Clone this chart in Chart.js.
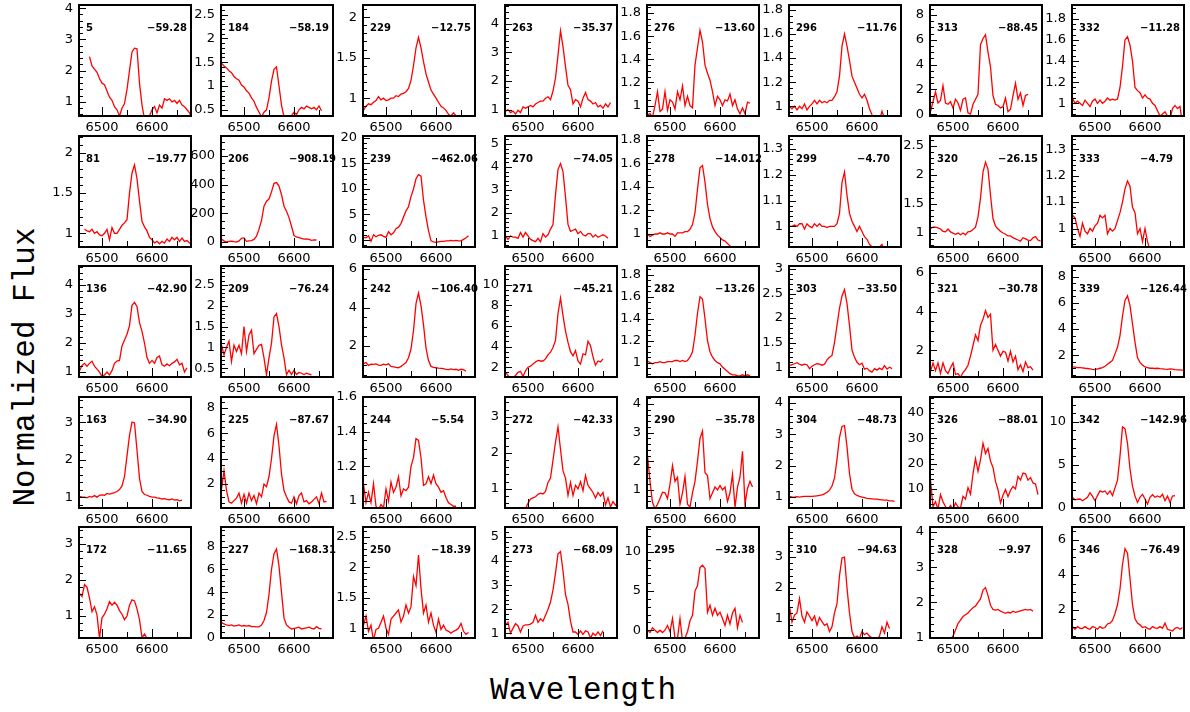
<!DOCTYPE html>
<html>
<head>
<meta charset="utf-8">
<title>H-alpha profiles</title>
<script src="https://cdn.jsdelivr.net/npm/chart.js@4.4.0/dist/chart.umd.min.js"></script>
<style>
  body { margin: 0; background: #fff; width: 1190px; height: 712px; position: relative; overflow: hidden; }
  canvas.panel { position: absolute; }
  .title { position: absolute; font: 31px "Liberation Mono", monospace; color: #000; white-space: nowrap; }
  #ytitle { left: 25px; top: 367px; transform: translate(-50%, -50%) rotate(-90deg); }
  #xtitle { left: 583px; top: 690px; transform: translate(-50%, -50%); }
</style>
</head>
<body>
<div class="title" id="ytitle">Normalized Flux</div>
<div class="title" id="xtitle">Wavelength</div>
<script>
// wavelength grid shared by every spectrum (Angstrom)
const wave = [6455, 6460, 6465, 6470, 6475, 6480, 6485, 6490, 6495, 6500,
  6505, 6510, 6515, 6520, 6525, 6530, 6535, 6540, 6545, 6550,
  6555, 6560, 6565, 6570, 6575, 6580, 6585, 6590, 6595, 6600,
  6605, 6610, 6615, 6620, 6625, 6630, 6635, 6640, 6645, 6650,
  6655, 6660, 6665, 6670, 6675, 6680];

// normalized flux per star, sampled on `wave` (null = no data)
const s5 = [null, null, null, null, 2.45, 2.15, 2.05, 1.95, 1.75, 1.6,
  1.55, 1.35, 1.15, 1.05, 0.85, 0.75, 0.55, 0.8, 0.95, 1.4,
  2.0, 2.6, 2.72, 2.7, 1.6, 0.9, 0.45, 0.4, 0.55, 0.75,
  0.85, 0.65, 0.9, 0.8, 1.1, 1.05, 1.1, 1.0, 1.05, 0.95, 1.05, 0.9, 0.85, 0.75, 0.65, 0.5];
const s184 = [1.48, 1.42, 1.38, 1.32, 1.28, 1.2, 1.15, 1.12, 1.02, 0.98,
  0.9, 0.85, 0.75, 0.68, 0.55, 0.45, 0.35, 0.45, 0.5, 0.75,
  1.1, 1.35, 1.4, 1.0, 0.6, 0.35, 0.3, 0.3, 0.38, 0.45,
  0.4, 0.5, 0.55, 0.52, 0.58, 0.55, 0.52, 0.55, 0.5, 0.58, 0.48];
const s229 = [0.85, 0.9, 0.93, 0.92, 0.95, 0.97, 1.02, 0.98, 1.0, 0.97,
  0.98, 1.0, 1.0, 1.03, 1.02, 1.05, 1.06, 1.08, 1.12, 1.22,
  1.4, 1.62, 1.75, 1.62, 1.45, 1.3, 1.2, 1.1, 1.05, 1.0,
  0.95, 0.9, 0.88, 0.85, 0.8, 0.78, 0.82, 0.78, 0.75, 0.77, 0.76];
const s263 = [0.95, 1.0, 0.9, 0.95, 0.85, 0.98, 0.9, 1.1, 1.05, 1.1,
  1.15, 1.1, 1.2, 1.25, 1.3, 1.3, 1.4, 1.45, 1.35, 1.65,
  2.1, 2.9, 3.75, 3.2, 2.5, 1.85, 1.7, 1.2, 1.35, 1.3,
  1.1, 1.4, 1.6, 1.35, 1.3, 1.2, 1.25, 1.1, 1.15, 1.05, 1.2, 1.1, 1.25];
const s276 = [0.92, 0.93, 0.9, 1.0, 1.12, 0.95, 0.97, 1.12, 0.96, 1.05,
  1.03, 0.97, 1.12, 1.05, 1.17, 1.0, 1.08, 1.0, 0.98, 1.35,
  1.5, 1.65, 1.55, 1.35, 1.28, 1.22, 1.12, 1.0, 1.08, 1.05,
  1.0, 1.05, 1.04, 1.1, 1.0, 1.05, 0.97, 0.93, 0.98, 0.93, 1.03, 1.02];
const s296 = [1.0, 0.98, 1.0, 0.97, 1.0, 0.98, 1.02, 0.97, 1.0, 1.02,
  1.05, 1.02, 1.05, 1.03, 1.04, 1.03, 1.05, 1.05, 1.08, 1.12,
  1.25, 1.5, 1.6, 1.5, 1.38, 1.25, 1.2, 1.15, 1.1, 1.07,
  1.1, 1.05, 0.98, 0.93, 0.9, 0.88, 0.88, 0.96, 0.9, 0.88, 0.86, 0.88, 0.85, 0.86];
const s313 = [0.2, 1.0, 1.8, 0.9, 1.1, 2.3, 0.9, 0.8, 1.0, 0.5,
  1.2, 0.9, 0.3, 1.2, 1.3, 0.1, 0.0, 0.8, 1.2, 1.6,
  5.6, 6.1, 6.4, 5.0, 3.8, 1.5, 0.8, 0.7, 0.5, 0.6,
  1.3, 0.2, 0.4, 1.5, 2.5, 1.2, 1.7, 0.7, 1.5, 1.6];
const s332 = [1.05, 1.0, 1.02, 1.0, 0.98, 1.03, 1.0, 0.97, 1.02, 1.04,
  1.0, 1.03, 1.0, 1.02, 1.05, 1.03, 1.04, 1.03, 1.04, 1.15,
  1.35, 1.6, 1.63, 1.55, 1.4, 1.15, 1.12, 1.1, 1.05, 1.08,
  1.05, 1.04, 1.0, 0.98, 0.93, 0.88, 0.9, 0.92, 0.88, 0.85, 0.95, 0.98, 0.95, 0.97, 0.8];

const s81 = [null, null, 1.05, 1.03, 1.02, 1.05, 1.0, 1.02, 0.98, 0.97,
  1.0, 1.05, 0.92, 1.07, 1.0, 1.0, 1.05, 1.1, 1.13, 1.17,
  1.5, 1.75, 1.85, 1.68, 1.4, 1.15, 1.08, 1.03, 0.95, 0.92,
  0.88, 0.9, 0.87, 0.9, 0.88, 0.93, 0.9, 0.95, 0.92, 0.95, 0.9, 0.94, 0.9, 0.91, 0.88, 0.87];
const s206 = [20, 8, 0, 4, 5, 2, 0, 8, 25, 28,
  5, 8, 10, 18, 40, 90, 150, 250, 285, 300,
  350, 410, 415, 390, 330, 250, 215, 170, 110, 45,
  35, 30, 25, 20, 22, 18, 12, 15, 14];
const s239 = [0.5, 0.4, 0.8, -0.3, 1.0, 0.6, 0.9, 1.0, 0.7, 0.5,
  1.6, 1.0, 1.4, 2.2, 2.5, 3.2, 4.5, 5.7, 6.5, 8.5,
  10.0, 12.0, 12.8, 12.5, 7.8, 4.5, 1.8, -0.2, -0.4, -0.5,
  -0.4, -0.3, -0.3, -0.2, -0.2, -0.1, -0.2, -0.1, -0.2, -0.2, 0.1, 0.4, 0.8];
const s270 = [1.0, 0.85, 1.0, 0.95, 0.95, 0.9, 1.15, 0.95, 1.15, 1.0,
  0.85, 0.8, 0.75, 0.9, 0.75, 1.1, 0.95, 1.05, 1.3, 1.5,
  2.8, 3.9, 4.15, 3.8, 2.7, 1.5, 1.2, 1.25, 1.3, 1.1,
  1.2, 1.05, 1.0, 1.1, 1.1, 0.95, 1.05, 0.95, 1.0, 1.05, 1.0, 0.9];
const s278 = [1.0, 0.98, 0.99, 1.0, 1.0, 1.01, 1.0, 1.0, 1.01, 1.0,
  1.0, 0.98, 1.01, 1.01, 1.01, 1.02, 1.02, 1.04, 1.08, 1.18,
  1.38, 1.56, 1.58, 1.44, 1.25, 1.13, 1.06, 1.02, 0.99, 0.97,
  0.95, 0.94, 0.92, 0.9, 0.87];
const s299 = [1.0, 1.0, 1.005, 1.0, 1.01, 1.01, 0.99, 1.01, 1.0, 0.995,
  1.01, 1.0, 1.01, 1.0, 1.0, 0.995, 1.0, 1.0, 1.0, 1.01,
  1.05, 1.17, 1.21, 1.12, 1.05, 1.02, 1.0, 0.98, 1.0, 0.98,
  0.96, 0.95, 0.93, 0.92, 0.9, 0.9, 0.92, 0.93, 0.9];
const s320 = [1.08, 1.1, 1.1, 1.09, 1.07, 1.03, 1.02, 1.07, 1.02, 1.0,
  0.98, 1.0, 0.97, 1.0, 0.97, 1.02, 1.03, 1.06, 1.1, 1.28,
  1.6, 2.05, 2.22, 2.1, 1.65, 1.25, 1.12, 1.07, 1.03, 1.0,
  0.98, 0.95, 0.95, 0.92, 0.9, 0.88, 0.86, 0.92, 0.9, 0.88, 0.87, 0.92, 0.94, 0.88, 0.86];
const s333 = [1.05, 1.04, 1.0, 0.97, 1.02, 0.99, 0.98, 1.0, 0.99, 1.01,
  1.02, 1.05, 1.04, 1.05, 0.98, 1.0, 0.99, 1.0, 1.03, 1.06,
  1.1, 1.15, 1.18, 1.16, 1.08, 1.06, 0.98, 1.0, 0.95, 1.0,
  0.95, 0.92, 0.93, 0.9, 0.88, 0.87, 0.9, 0.88, 0.9, 0.93];

const s136 = [1.05, 1.23, 1.3, 1.2, 1.3, 1.37, 1.2, 1.1, 1.0, 0.85,
  0.9, 1.0, 0.9, 1.05, 1.3, 1.38, 1.4, 1.9, 2.1, 2.3,
  2.6, 3.3, 3.4, 3.25, 2.7, 2.4, 2.0, 1.5, 1.3, 1.4,
  1.3, 1.5, 1.55, 1.25, 1.2, 1.28, 1.22, 1.3, 1.35, 1.44, 1.25, 1.3, 1.0, 1.15];
const s209 = [1.05, 0.82, 1.0, 1.15, 0.66, 1.05, 0.9, 1.05, 0.85, 1.5,
  0.9, 1.3, 1.41, 0.85, 0.95, 1.05, 1.07, 0.75, 0.34, 0.75,
  1.1, 1.73, 1.81, 1.5, 1.06, 0.75, 0.35, 0.45, 0.35, 0.45,
  0.35, 0.4, 0.38, 0.35, 0.38, 0.36, 0.34];
const s242 = [1.09, 1.15, 1.0, 1.07, 1.05, 1.08, 1.02, 1.0, 1.06, 1.03,
  1.08, 0.95, 0.93, 0.9, 0.88, 0.95, 1.05, 1.15, 1.4, 1.85,
  2.8, 4.2, 4.75, 4.1, 3.1, 1.9, 1.25, 0.95, 0.9, 0.88,
  0.86, 0.85, 0.83, 0.8, 0.78, 0.82, 0.78, 0.8, 0.75, 0.8, 0.78, 0.7];
const s271 = [1.5, 1.2, 0.7, 1.0, 1.2, 1.5, 1.6, 1.1, 1.65, 2.0,
  2.1, 2.3, 2.5, 2.65, 2.6, 2.6, 2.8, 3.2, 3.45, 3.9,
  4.6, 7.2, 8.7, 7.0, 5.5, 4.4, 3.5, 3.1, 3.6, 2.6,
  2.3, 3.3, 3.2, 4.5, 4.1, 3.0, 2.2, 2.6, 2.5, 2.8];
const s282 = [1.015, 1.0, 0.99, 1.0, 1.0, 1.01, 1.0, 1.0, 1.01, 1.01,
  1.01, 1.02, 1.02, 1.01, 1.02, 1.01, 1.02, 1.05, 1.1, 1.25,
  1.45, 1.6, 1.58, 1.4, 1.2, 1.1, 1.05, 1.02, 1.0, 0.99,
  0.96, 0.94, 0.92, 0.9, 0.89, 0.89, 0.88, 0.88, 0.89, 0.88, 0.89, 0.88];
const s303 = [1.03, 1.05, 1.07, 1.09, 1.06, 1.04, 1.06, 1.05, 0.97, 1.02,
  1.05, 1.07, 1.06, 1.04, 1.06, 1.15, 1.2, 1.24, 1.5, 1.85,
  2.2, 2.45, 2.58, 2.3, 1.85, 1.35, 1.2, 1.1, 1.05, 1.08,
  0.96, 0.98, 0.93, 0.9, 0.97, 0.94, 0.98, 0.95, 1.03, 0.96, 1.0, 0.97];
const s321 = [0.9, 1.35, 0.95, 1.35, 0.8, 1.35, 0.95, 0.8, 1.1, 1.35,
  0.75, 0.8, 0.6, 0.85, 1.0, 1.23, 1.7, 2.25, 2.8, 2.5,
  3.3, 3.6, 4.05, 3.7, 3.87, 2.0, 2.3, 2.0, 1.7, 1.95,
  1.9, 1.45, 1.95, 1.4, 1.7, 1.0, 1.25, 0.9, 1.4, 1.1, 1.15, 0.98];
const s339 = [1.1, 1.08, 1.05, 1.05, 1.03, 1.0, 0.98, 0.95, 0.92, 0.9,
  0.95, 1.0, 1.05, 1.15, 1.3, 1.45, 1.6, 2.1, 2.6, 3.5,
  5.0, 6.2, 6.55, 5.8, 4.4, 3.0, 1.8, 1.45, 1.25, 1.1,
  1.05, 1.0, 1.0, 0.98, 1.0, 0.97, 0.95, 0.93, 0.92, 0.95, 0.93, 0.9, 0.88, 0.87, 0.85, 0.84];

const s163 = [1.02, 1.0, 1.0, 0.98, 1.02, 1.0, 1.04, 1.0, 1.05, 1.06,
  1.05, 1.1, 1.08, 1.1, 1.12, 1.15, 1.2, 1.3, 1.55, 2.1,
  2.65, 3.0, 2.98, 2.25, 1.5, 1.15, 1.07, 1.05, 1.02, 1.0,
  1.0, 0.98, 0.97, 0.95, 0.96, 0.94, 0.93, 0.95, 0.92, 0.93, 0.9, 0.92];
const s225 = [1.6, 3.05, 1.5, 0.6, 0.5, 0.7, 0.9, 1.3, 0.5, 1.2,
  0.5, 1.3, 0.7, 1.1, 0.45, 1.3, 1.0, 2.0, 1.8, 2.6,
  4.0, 5.8, 6.7, 5.0, 2.8, 1.5, 1.0, 0.6, 0.5, 1.0,
  0.45, 1.1, 1.3, 0.6, 0.7, 0.45, 0.6, 0.8, 1.0, 0.45, 1.3, 0.6, 0.65];
const s244 = [1.1, 0.99, 1.05, 0.99, 1.1, 0.97, 0.95, 0.98, 0.96, 1.07,
  1.0, 1.11, 1.05, 1.08, 1.14, 1.03, 1.07, 1.06, 1.08, 1.2,
  1.25, 1.36, 1.35, 1.25, 1.09, 1.1, 1.14, 1.1, 1.15, 1.1,
  1.08, 1.05, 1.06, 1.02, 0.99, 0.98, 0.97, 0.97];
const s272 = [null, null, null, null, null, null, null, null, 0.45, 0.6,
  0.72, 0.75, 0.78, 0.85, 0.88, 0.86, 0.93, 1.18, 1.3, 1.8,
  2.3, 2.72, 2.1, 1.5, 1.3, 0.82, 1.18, 0.82, 1.1, 1.0,
  1.2, 0.95, 1.37, 1.1, 1.0, 0.9, 0.75, 0.9, 0.8, 0.9, 0.55, 0.75, 0.5, 0.65, 0.55, 0.6];
const s290 = [2.2, 1.3, 0.57, 0.34, 0.5, 0.7, 0.92, 0.9, 0.7, 1.2,
  1.85, 1.3, 1.44, 0.5, 0.9, 1.47, 0.5, 0.4, 0.9, 1.3,
  2.0, 2.8, 3.05, 1.6, 1.5, 0.7, 0.9, 1.1, 1.0, 1.15,
  1.0, 1.1, 0.6, 0.9, 1.55, 0.4, 1.1, 1.45, 2.35, 0.5, 1.05, 1.3, 1.1];
const s304 = [1.02, 1.0, 1.0, 1.01, 1.0, 1.01, 1.02, 1.02, 1.02, 1.02,
  1.03, 1.04, 1.05, 1.07, 1.1, 1.15, 1.22, 1.35, 1.6, 2.2,
  2.9, 3.25, 3.28, 2.6, 1.75, 1.25, 1.1, 1.05, 1.02, 1.0,
  0.98, 0.96, 0.95, 0.94, 0.93, 0.93, 0.92, 0.91, 0.9, 0.9, 0.88, 0.88, 0.86];
const s326 = [13.5, 3.0, 5.0, 2.0, 7.8, 5.0, 3.0, 2.0, 3.5, 2.0,
  4.5, 3.0, 2.5, 7.1, 6.0, 10.5, 8.0, 16.0, 22.0, 17.0,
  21.5, 28.0, 24.0, 26.0, 21.0, 18.5, 13.0, 9.7, 4.5, 7.5,
  9.8, 7.0, 9.5, 11.0, 10.0, 15.0, 13.5, 16.3, 16.0, 13.5, 14.5, 12.4, 12.0, 7.8];
const s342 = [1.2, 0.9, 0.97, 1.0, 0.8, 1.0, 1.2, 1.74, 1.3, 0.8,
  1.4, 1.94, 1.8, 1.94, 1.55, 1.94, 1.4, 2.3, 3.2, 6.0,
  9.4, 9.2, 7.5, 4.5, 2.5, 1.35, 0.6, 1.2, 1.55, 1.0,
  0.4, 1.2, 1.5, 1.2, 1.35, 1.2, 1.55, 0.8, 1.35, 0.6, 1.35, 1.4];

const s172 = [1.63, 1.54, 1.87, 1.8, 1.5, 1.12, 1.26, 1.03, 0.38, 0.95,
  1.05, 1.2, 1.4, 1.3, 1.38, 1.3, 1.15, 1.05, 0.9, 1.0,
  1.3, 1.45, 1.42, 1.2, 0.9, 0.4, 0.5, 0.38, 0.3, 0.3];
const s227 = [1.3, 1.2, 1.1, 1.05, 1.1, 1.0, 1.05, 1.1, 1.0, 1.05,
  1.0, 1.05, 0.95, 0.95, 0.93, 0.93, 1.1, 1.5, 2.2, 3.8,
  6.0, 7.4, 7.8, 6.3, 4.0, 1.7, 1.1, 0.9, 0.75, 0.8,
  0.85, 0.9, 0.75, 0.8, 0.85, 0.9, 0.8, 0.75, 0.95, 0.8, 0.75];
const s250 = [1.05, 1.2, 0.95, 1.05, 0.8, 0.98, 1.0, 1.1, 1.2, 1.0,
  0.9, 1.15, 1.2, 1.25, 1.3, 1.1, 1.2, 1.38, 1.25, 1.35,
  1.85, 1.7, 2.2, 1.65, 1.25, 1.38, 1.1, 1.25, 1.05, 0.93,
  1.15, 0.98, 1.05, 0.97, 0.95, 0.92, 0.95, 0.97, 1.0, 1.08, 0.95, 0.9, 0.93];
const s273 = [1.34, 1.45, 1.0, 1.2, 1.4, 1.3, 1.05, 1.3, 1.35, 1.35,
  1.38, 1.45, 1.75, 1.45, 1.6, 1.5, 1.75, 2.0, 2.3, 2.8,
  3.5, 4.3, 4.4, 3.6, 2.6, 2.2, 1.5, 1.05, 1.05, 0.95,
  1.1, 0.95, 1.1, 1.05, 0.8, 1.0, 0.9, 1.05, 0.9, 1.1];
const s295 = [0.0, -0.3, 0.3, 0.0, -0.3, 0.0, -0.3, 0.0, 0.6, -0.2,
  1.5, -1.0, -1.0, 1.5, -1.4, -1.0, -0.2, 1.2, 1.9, 5.0,
  5.7, 8.0, 8.3, 7.9, 2.3, 3.2, 1.9, 2.8, 1.9, 2.3,
  1.5, 0.6, 1.9, 0.8, 2.2, 2.8, 0.3, 1.9, 1.0];
const s310 = [1.4, 0.9, 1.13, 1.2, 1.66, 1.1, 0.9, 1.23, 1.1, 0.95,
  1.1, 0.8, 1.05, 0.92, 0.8, 0.85, 0.6, 0.75, 1.2, 1.5,
  2.4, 2.97, 3.0, 2.0, 1.2, 0.6, 0.4, 0.45, 0.38, 0.6,
  0.5, 0.55, 0.45, 0.4, 0.35, 0.35, 0.45, 0.75, 0.55, 0.9, 0.7];
const s328 = [null, null, null, null, null, null, null, null, 0.95, 1.05,
  1.22, 1.4, 1.5, 1.6, 1.65, 1.7, 1.78, 1.85, 1.9, 2.0,
  2.1, 2.35, 2.42, 2.2, 1.92, 1.8, 1.78, 1.8, 1.75, 1.72,
  1.69, 1.72, 1.7, 1.75, 1.72, 1.74, 1.76, 1.78, 1.8, 1.78, 1.8, 1.75];
const s346 = [1.05, 0.9, 1.05, 0.95, 0.95, 1.05, 0.95, 0.9, 1.05, 1.0,
  0.9, 1.05, 0.95, 1.0, 1.2, 1.25, 1.4, 1.8, 2.3, 3.2,
  4.6, 5.5, 5.25, 3.8, 2.3, 1.5, 1.25, 1.15, 1.0, 1.05,
  0.95, 0.9, 1.05, 0.98, 0.95, 1.05, 0.95, 1.25, 0.9, 0.85, 0.8, 0.95, 1.0, 0.9, 1.0];

// panel order: row by row, left to right
const spectra = [s5, s184, s229, s263, s276, s296, s313, s332,
  s81, s206, s239, s270, s278, s299, s320, s333,
  s136, s209, s242, s271, s282, s303, s321, s339,
  s163, s225, s244, s272, s290, s304, s326, s342,
  s172, s227, s250, s273, s295, s310, s328, s346];

const ids = ['5', '184', '229', '263', '276', '296', '313', '332',
  '81', '206', '239', '270', '278', '299', '320', '333',
  '136', '209', '242', '271', '282', '303', '321', '339',
  '163', '225', '244', '272', '290', '304', '326', '342',
  '172', '227', '250', '273', '295', '310', '328', '346'];

const vels = ['\u221259.28', '\u221258.19', '\u221212.75', '\u221235.37', '\u221213.60', '\u221211.76', '\u221288.45', '\u221211.28',
  '\u221219.77', '\u2212908.19', '\u2212462.06', '\u221274.05', '\u221214.012', '\u22124.70', '\u221226.15', '\u22124.79',
  '\u221242.90', '\u221276.24', '\u2212106.40', '\u221245.21', '\u221213.26', '\u221233.50', '\u221230.78', '\u2212126.44',
  '\u221234.90', '\u221287.67', '\u22125.54', '\u221242.33', '\u221235.78', '\u221248.73', '\u221288.01', '\u2212142.96',
  '\u221211.65', '\u2212168.31', '\u221218.39', '\u221268.09', '\u221292.38', '\u221294.63', '\u22129.97', '\u221276.49'];

// y limits and labelled tick spacing for each panel
const yMin = [0.55, 0.37, 0.78, 0.78, 0.91, 0.92, -0.15, 0.88,
  0.83, -35, -1.4, 0.52, 0.89, 0.92, 0.76, 0.93,
  0.83, 0.29, 0.4, 1.05, 0.87, 0.8, 0.62, 0.33,
  0.71, 0.12, 0.96, 0.47, 0.37, 0.65, 2.5, -0.05,
  0.39, -0.05, 0.84, 0.8, -1.0, 0.39, 0.99, 0.4];
const yMax = [4.1, 2.7, 2.15, 4.65, 1.87, 1.84, 8.8, 1.93,
  2.21, 740, 20.4, 5.35, 1.83, 1.35, 2.67, 1.35,
  4.65, 2.95, 6.15, 11.8, 1.88, 3.06, 6.36, 8.83,
  3.67, 8.86, 1.6, 3.55, 4.24, 4.19, 46.3, 12.9,
  3.47, 9.75, 2.66, 5.42, 13.2, 3.97, 4.14, 6.74];
const yStep = [1, 0.5, 0.5, 1, 0.2, 0.2, 2, 0.2,
  0.5, 200, 5, 1, 0.2, 0.1, 0.5, 0.1,
  1, 0.5, 2, 2, 0.2, 0.5, 2, 2,
  1, 2, 0.2, 1, 1, 1, 10, 5,
  1, 2, 0.5, 1, 5, 1, 1, 2];

const xMin = 6454, xMax = 6678;
const xStep = 100;

// grid geometry
const PLOT_W = 112, PLOT_H = 111;
const COL0 = 79, COL_DX = 141.9, ROW0 = 5, ROW_DY = 130.5;
const PAD_L = 36, PAD_T = 8, PAD_R = 20, PAD_B = 20;

const tickFont = { family: 'DejaVu Sans', size: 13 };

// multiples of `step` that fall inside the scale range
function stepTicks(scale, step) {
  const k0 = Math.ceil(scale.min / step - 1e-9);
  const k1 = Math.floor(scale.max / step + 1e-9);
  const out = [];
  for (let k = k0; k <= k1; k++) out.push({ value: +(k * step).toFixed(6) });
  return out;
}

// keep the plot box exactly where it is placed: no extra room for edge labels
function fixBox(scale, key, size) {
  scale[key] = size;
  scale.paddingTop = 0;
  scale.paddingBottom = 0;
  scale.paddingLeft = 0;
  scale.paddingRight = 0;
}

// box, inward ticks and the two panel labels
const panelDecor = {
  id: 'panelDecor',
  afterDatasetsDraw(chart, args, opts) {
    const { ctx, chartArea: a, scales: { x, y } } = chart;
    ctx.save();
    ctx.strokeStyle = '#000';
    ctx.lineWidth = 1;

    const step = opts.step;
    const lead = Math.round(step / Math.pow(10, Math.floor(Math.log10(step) + 1e-9)));
    const nSub = lead === 2 ? 4 : 5;
    const minor = step / nSub;
    const k0 = Math.ceil(y.min / minor - 1e-6), k1 = Math.floor(y.max / minor + 1e-6);
    for (let k = k0; k <= k1; k++) {
      const py = Math.round(y.getPixelForValue(k * minor)) + 0.5;
      const len = (k % nSub === 0) ? 7 : 4;
      ctx.beginPath();
      ctx.moveTo(a.left, py);
      ctx.lineTo(a.left + len, py);
      ctx.stroke();
    }

    const xMinor = 50;
    for (let v = Math.ceil(x.min / xMinor) * xMinor; v <= x.max; v += xMinor) {
      const px = Math.round(x.getPixelForValue(v)) + 0.5;
      const len = (v % xStep === 0) ? 9 : 6;
      ctx.beginPath();
      ctx.moveTo(px, a.bottom);
      ctx.lineTo(px, a.bottom - len);
      ctx.stroke();
    }

    ctx.lineWidth = 2;
    ctx.strokeRect(a.left, a.top, a.right - a.left, a.bottom - a.top);

    ctx.fillStyle = '#000';
    ctx.font = 'bold 10px "DejaVu Sans"';
    ctx.textBaseline = 'alphabetic';
    ctx.textAlign = 'left';
    ctx.fillText(opts.id, a.left + 7, a.top + 26);
    ctx.fillText(opts.vel, a.left + 68, a.top + 26);
    ctx.restore();
  }
};

function drawPanel(p) {
  const r = Math.floor(p / 8), c = p % 8;
  const left = Math.round(COL0 + c * COL_DX) - PAD_L;
  const top = Math.round(ROW0 + r * ROW_DY) - PAD_T;

  const canvas = document.createElement('canvas');
  canvas.className = 'panel';
  canvas.width = PAD_L + PLOT_W + PAD_R;
  canvas.height = PAD_T + PLOT_H + PAD_B;
  canvas.style.left = left + 'px';
  canvas.style.top = top + 'px';
  document.body.appendChild(canvas);

  const flux = spectra[p];
  const points = wave.map((w, i) => ({ x: w, y: flux[i] === undefined ? null : flux[i] }));

  new Chart(canvas, {
    type: 'line',
    data: {
      datasets: [{
        data: points,
        borderColor: '#ff0000',
        borderWidth: 1.3,
        pointRadius: 0,
        tension: 0,
        spanGaps: false
      }]
    },
    options: {
      responsive: false,
      animation: false,
      events: [],
      layout: { padding: { top: PAD_T, right: PAD_R, left: 0, bottom: 0 } },
      plugins: {
        legend: { display: false },
        tooltip: { enabled: false },
        panelDecor: { id: ids[p], vel: vels[p], step: yStep[p] }
      },
      scales: {
        x: {
          type: 'linear',
          min: xMin,
          max: xMax,
          afterBuildTicks: (s) => { s.ticks = stepTicks(s, xStep); },
          afterFit: (s) => fixBox(s, 'height', PAD_B),
          grid: { display: false, drawTicks: false },
          border: { display: false },
          ticks: {
            autoSkip: false,
            maxRotation: 0,
            minRotation: 0,
            padding: 4,
            color: '#000',
            font: tickFont,
            callback: (v) => String(v)
          }
        },
        y: {
          type: 'linear',
          min: yMin[p],
          max: yMax[p],
          afterBuildTicks: (s) => { s.ticks = stepTicks(s, yStep[p]); },
          afterFit: (s) => fixBox(s, 'width', PAD_L),
          grid: { display: false, drawTicks: false },
          border: { display: false },
          ticks: {
            autoSkip: false,
            padding: 6,
            color: '#000',
            font: tickFont,
            callback: (v) => String(+v.toFixed(4))
          }
        }
      }
    },
    plugins: [panelDecor]
  });
}

for (let p = 0; p < spectra.length; p++) {
  drawPanel(p);
}
</script>
</body>
</html>
